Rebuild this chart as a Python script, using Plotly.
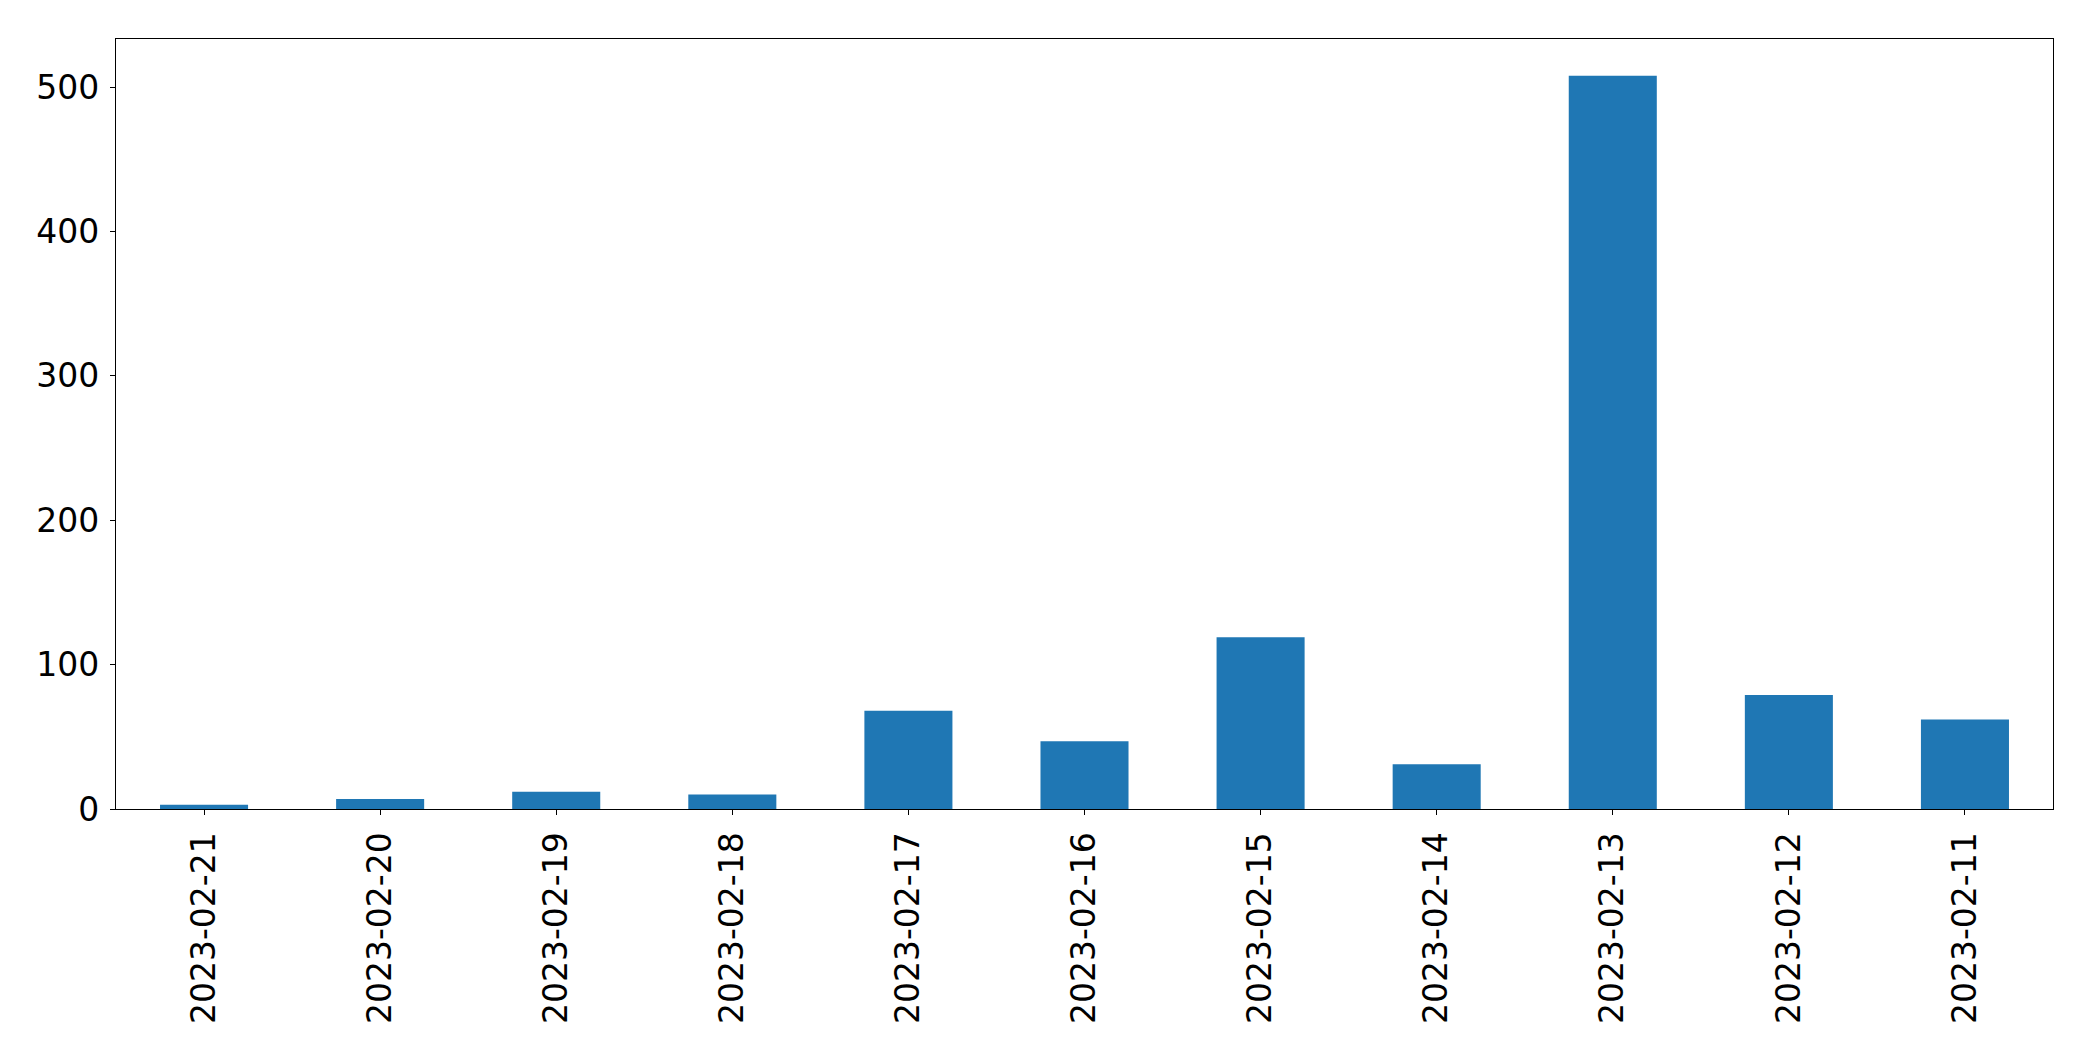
import plotly.graph_objects as go

dates = ["2023-02-21", "2023-02-20", "2023-02-19", "2023-02-18", "2023-02-17",
         "2023-02-16", "2023-02-15", "2023-02-14", "2023-02-13", "2023-02-12",
         "2023-02-11"]
counts = [3, 7, 12, 10, 68, 47, 119, 31, 508, 79, 62]
y_ticks = [0, 100, 200, 300, 400, 500]

fig = go.Figure(go.Bar(
    x=dates, y=counts, width=0.5,
    marker=dict(color="#1f77b4", line=dict(width=0)),
))

font = dict(family="DejaVu Sans", size=33, color="black")

fig.update_layout(
    width=2093, height=1061, autosize=False,
    margin=dict(l=116, r=40, t=39, b=252),
    paper_bgcolor="white", plot_bgcolor="white",
    showlegend=False,
    font=font,
)
fig.update_xaxes(
    type="category", range=[-0.5, len(dates) - 0.5],
    showline=True, linecolor="black", linewidth=1.1, mirror=True,
    ticks="outside", ticklen=5, tickwidth=1.1, tickcolor="black",
    tickangle=-90, tickfont=font, showgrid=False, zeroline=False,
    ticklabelstandoff=4,
)
fig.update_yaxes(
    range=[0, max(counts) * 1.05],
    tickvals=y_ticks, ticktext=[str(v) for v in y_ticks],
    showline=True, linecolor="black", linewidth=1.1, mirror=True,
    ticks="outside", ticklen=5, tickwidth=1.1, tickcolor="black",
    tickfont=font, showgrid=False, zeroline=False,
    ticklabelstandoff=4,
)

fig.write_html("out.html")
